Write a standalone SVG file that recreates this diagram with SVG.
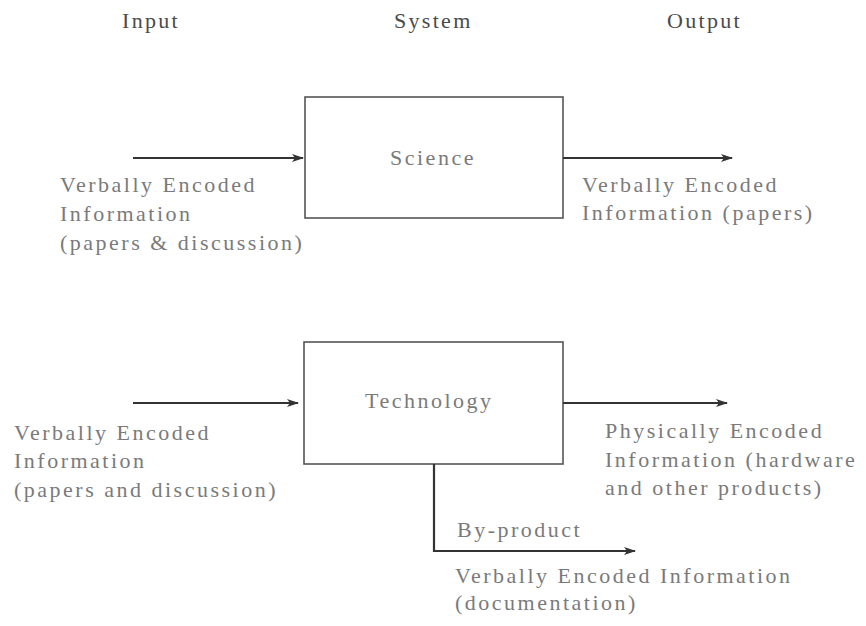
<svg xmlns="http://www.w3.org/2000/svg" width="866" height="626" viewBox="0 0 866 626">
  <style>
    text { font-family: 'Liberation Serif', 'DejaVu Serif', 'Times New Roman', serif; font-size: 22px; }
    .hdr { letter-spacing: 2.3px; fill: #4a4a4a; }
    .lbl { letter-spacing: 2.5px; fill: #7a7a7a; }
    .box { fill: #ffffff; stroke: #555555; stroke-width: 1.6; }
    .flow { fill: none; stroke: #333333; stroke-width: 2.2; }
  </style>
  <defs>
    <marker id="arrow" viewBox="0 0 12 8" refX="11" refY="4" markerWidth="12" markerHeight="8" markerUnits="userSpaceOnUse" orient="auto">
      <path d="M0,0 L12,4 L0,8 L3,4 Z" fill="#333333"/>
    </marker>
  </defs>
  <rect width="866" height="626" fill="#ffffff"/>

  <!-- column headings -->
  <g id="headings">
    <text class="hdr" x="122" y="28">Input</text>
    <text class="hdr" x="394" y="28">System</text>
    <text class="hdr" x="667" y="28">Output</text>
  </g>

  <!-- systems -->
  <g id="science">
    <rect class="box" x="305" y="97" width="258" height="121"/>
    <text class="lbl" x="390" y="165">Science</text>
  </g>
  <g id="technology">
    <rect class="box" x="304" y="342" width="259" height="122"/>
    <text class="lbl" x="365" y="408">Technology</text>
  </g>

  <!-- flows -->
  <g id="connectors">
    <line class="flow" x1="133" y1="158" x2="303" y2="158" marker-end="url(#arrow)"/>
    <line class="flow" x1="563" y1="158" x2="732" y2="158" marker-end="url(#arrow)"/>
    <line class="flow" x1="133" y1="403" x2="298" y2="403" marker-end="url(#arrow)"/>
    <line class="flow" x1="563" y1="403" x2="727" y2="403" marker-end="url(#arrow)"/>
    <polyline class="flow" points="434,464 434,551 635,551" marker-end="url(#arrow)"/>
  </g>

  <!-- flow labels -->
  <g id="science-input">
    <text class="lbl" x="60" y="192">Verbally Encoded</text>
    <text class="lbl" x="60" y="221">Information</text>
    <text class="lbl" x="60" y="250">(papers &amp; discussion)</text>
  </g>
  <g id="science-output">
    <text class="lbl" x="582" y="192">Verbally Encoded</text>
    <text class="lbl" x="582" y="220">Information (papers)</text>
  </g>
  <g id="technology-input">
    <text class="lbl" x="14" y="440">Verbally Encoded</text>
    <text class="lbl" x="14" y="468">Information</text>
    <text class="lbl" x="14" y="497">(papers and discussion)</text>
  </g>
  <g id="technology-output">
    <text class="lbl" x="605" y="438">Physically Encoded</text>
    <text class="lbl" x="605" y="467">Information (hardware</text>
    <text class="lbl" x="605" y="495">and other products)</text>
  </g>
  <g id="technology-byproduct">
    <text class="lbl" x="457" y="537">By-product</text>
    <text class="lbl" x="455" y="583">Verbally Encoded Information</text>
    <text class="lbl" x="455" y="610">(documentation)</text>
  </g>
</svg>
